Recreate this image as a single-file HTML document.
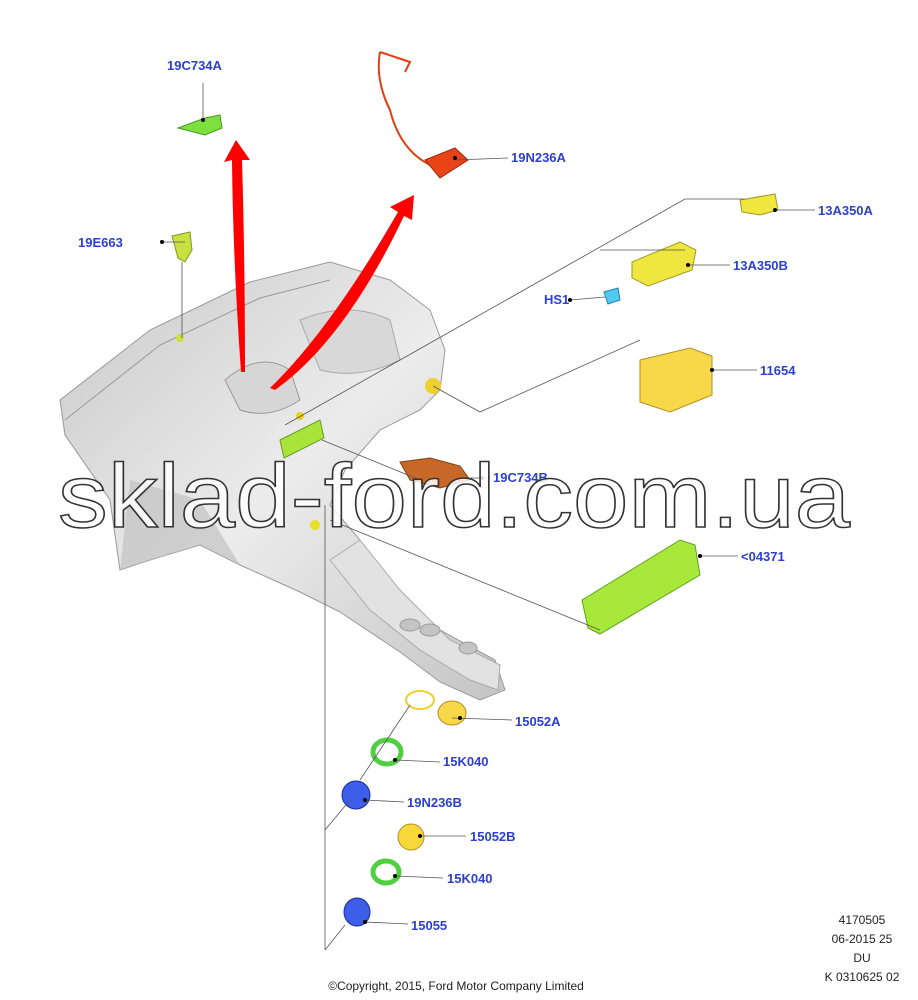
<!DOCTYPE html>
<html><head><meta charset="utf-8"><style>
html,body{margin:0;padding:0;background:#fff;}
svg{display:block;}
.l{font-family:"Liberation Sans",sans-serif;font-weight:bold;font-size:13px;fill:#2b3fd0;}
.t{font-family:"Liberation Sans",sans-serif;font-size:12px;fill:#222;}
.ln{stroke:#555;stroke-width:0.8;fill:none;}
</style></head><body>
<svg width="918" height="1000" viewBox="0 0 918 1000" xmlns="http://www.w3.org/2000/svg">
<defs>
<linearGradient id="g" x1="0" y1="0" x2="1" y2="1"><stop offset="0" stop-color="#c8c8c8"/><stop offset="0.5" stop-color="#ececec"/><stop offset="1" stop-color="#c4c4c4"/></linearGradient>
</defs>
<path d="M60,400 L150,330 L250,282 L330,262 L390,280 L430,310 L445,350 L440,390 L420,410 L380,430 L345,470 L330,505 L360,540 L390,585 L440,630 L495,660 L505,690 L480,700 L440,682 L400,652 L340,612 L300,592 L240,565 L200,545 L150,560 L120,570 L110,500 L65,435 Z" fill="url(#g)" stroke="#999" stroke-width="1"/>
<path d="M65,420 L160,345 L260,298 L330,280" stroke="#999" fill="none"/>
<path d="M120,570 L200,545 L240,565 L200,500 L130,480 Z" fill="#bdbdbd" opacity="0.6"/>
<path d="M225,380 Q260,350 290,370 L300,400 Q270,420 240,410 Z" fill="#d6d6d6" stroke="#999"/>
<path d="M300,320 Q350,300 390,320 L400,360 Q360,380 320,370 Z" fill="#d8d8d8" stroke="#aaa"/>
<path d="M330,560 L360,540 L400,590 L450,640 L500,665 L498,690 L470,680 L420,650 L370,610 Z" fill="#e2e2e2" stroke="#aaa"/>
<ellipse cx="410" cy="625" rx="10" ry="6" fill="#c4c4c4" stroke="#999"/>
<ellipse cx="430" cy="630" rx="10" ry="6" fill="#c4c4c4" stroke="#999"/>
<ellipse cx="468" cy="648" rx="9" ry="6" fill="#c4c4c4" stroke="#999"/>
<polygon points="280,440 320,420 324,438 284,458" fill="#a8e43a" stroke="#6a9a20"/>
<circle cx="433" cy="386" r="8" fill="#f0d030"/>
<circle cx="315" cy="525" r="5" fill="#e8e020"/>
<circle cx="300" cy="416" r="4" fill="#e8d020"/>
<circle cx="180" cy="338" r="4" fill="#c8e040"/>
<path d="M241,372 Q233,260 232,160 L224,162 L236,140 L250,160 L242,160 Q245,260 245,372 Z" fill="#ff0000"/>
<path d="M270,388 Q330,330 398,212 L390,207 L414,195 L412,220 L404,216 Q345,340 275,390 Z" fill="#ff0000"/>
<path d="M178,128 L205,118 L220,115 L222,128 L205,135 Z" fill="#7ee040" stroke="#4a9a20"/>
<path d="M380,52 Q375,80 390,110 Q400,150 430,165" stroke="#e04010" stroke-width="2" fill="none"/>
<path d="M380,52 L410,62 L405,72" stroke="#e04010" stroke-width="2" fill="none"/>
<polygon points="425,160 455,148 468,160 440,178" fill="#e84418" stroke="#a02808"/>
<path d="M172,236 L190,232 L192,250 L185,262 L178,258 Z" fill="#c8e040" stroke="#7a9a20"/>
<polygon points="740,200 775,194 778,210 760,215 742,212" fill="#f0e640" stroke="#a09a20"/>
<polygon points="632,262 680,242 696,250 692,270 648,286 632,278" fill="#f0e640" stroke="#a09a20"/>
<polygon points="604,292 618,288 620,300 608,304" fill="#50c8f0" stroke="#2080b0"/>
<polygon points="640,360 690,348 712,356 712,395 670,412 640,402" fill="#f8d848" stroke="#b09020"/>
<polygon points="400,462 430,458 460,466 470,480 440,488 410,480" fill="#c86828" stroke="#804010"/>
<polygon points="582,600 680,540 695,545 700,575 600,634 588,628" fill="#a8e83a" stroke="#60a020"/>
<ellipse cx="452" cy="713" rx="14" ry="12" fill="#f8d848" stroke="#b09020"/>
<ellipse cx="420" cy="700" rx="14" ry="9" fill="none" stroke="#f0d030" stroke-width="2"/>
<ellipse cx="387" cy="752" rx="14" ry="12" fill="none" stroke="#50d040" stroke-width="5"/>
<ellipse cx="356" cy="795" rx="14" ry="14" fill="#3d5ee8" stroke="#1c2c90"/>
<ellipse cx="411" cy="837" rx="13" ry="13" fill="#f8d838" stroke="#b09020"/>
<ellipse cx="386" cy="872" rx="13" ry="11" fill="none" stroke="#50d040" stroke-width="5"/>
<ellipse cx="357" cy="912" rx="13" ry="14" fill="#3d5ee8" stroke="#1c2c90"/>
<path class="ln" d="M203,83 L203,120 M162,242 L185,242 M182,262 L182,338 M455,160 L508,158 M775,210 L815,210 M688,265 L730,265 M570,300 L605,297 M712,370 L757,370 M460,478 L490,478 M700,556 L738,556 M452,718 L512,720 M395,760 L440,762 M365,800 L404,802 M420,836 L466,836 M395,876 L443,878 M365,922 L408,924"/>
<path class="ln" d="M745,199 L685,199 L285,425 M685,250 L600,250 M640,340 L480,412 L433,386 M322,440 L420,480 M330,520 L600,630 M325,505 L325,950 M325,830 L350,800 M325,950 L345,925 M410,705 L360,780"/>
<g fill="#000"><circle cx="203" cy="120" r="2"/><circle cx="162" cy="242" r="2"/><circle cx="455" cy="158" r="2"/><circle cx="775" cy="210" r="2"/><circle cx="688" cy="265" r="2"/><circle cx="570" cy="300" r="2"/><circle cx="712" cy="370" r="2"/><circle cx="700" cy="556" r="2"/><circle cx="460" cy="718" r="2"/><circle cx="395" cy="760" r="2"/><circle cx="365" cy="800" r="2"/><circle cx="420" cy="836" r="2"/><circle cx="395" cy="876" r="2"/><circle cx="365" cy="922" r="2"/><circle cx="482" cy="478" r="2"/></g>
<text class="l" x="167" y="70">19C734A</text>
<text class="l" x="511" y="162">19N236A</text>
<text class="l" x="818" y="215">13A350A</text>
<text class="l" x="733" y="270">13A350B</text>
<text class="l" x="544" y="304">HS1</text>
<text class="l" x="760" y="375">11654</text>
<text class="l" x="78" y="247">19E663</text>
<text class="l" x="493" y="482">19C734B</text>
<text class="l" x="741" y="561">&lt;04371</text>
<text class="l" x="515" y="726">15052A</text>
<text class="l" x="443" y="766">15K040</text>
<text class="l" x="407" y="807">19N236B</text>
<text class="l" x="470" y="841">15052B</text>
<text class="l" x="447" y="883">15K040</text>
<text class="l" x="411" y="930">15055</text>
<text class="t" x="862" y="924" text-anchor="middle">4170505</text>
<text class="t" x="862" y="943" text-anchor="middle">06-2015 25</text>
<text class="t" x="862" y="962" text-anchor="middle">DU</text>
<text class="t" x="862" y="981" text-anchor="middle">K 0310625 02</text>
<text class="t" x="456" y="990" text-anchor="middle">©Copyright, 2015, Ford Motor Company Limited</text>
<text x="58" y="527" font-family="Liberation Sans, sans-serif" font-size="90" textLength="792" lengthAdjust="spacingAndGlyphs" fill="#fff" fill-opacity="0.85" stroke="#333" stroke-width="1.5">sklad-ford.com.ua</text>
</svg>
</body></html>
